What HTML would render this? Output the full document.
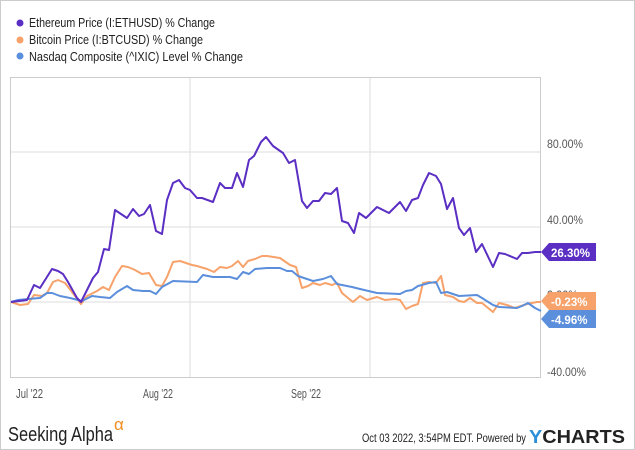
<!DOCTYPE html>
<html><head><style>
body{margin:0;width:635px;height:450px;background:#fff;overflow:hidden;font-family:"Liberation Sans",sans-serif}
</style></head><body>
<svg width="635" height="450" xmlns="http://www.w3.org/2000/svg" style="position:absolute;left:0;top:0">
<rect x="0.5" y="0.5" width="634" height="449" fill="#fff" stroke="#ccc"/>
<g font-size="12.5" fill="#222" font-family="Liberation Sans,sans-serif">
<circle cx="20" cy="23" r="3.5" fill="#5b2ec4"/><text x="29" y="27" textLength="186" lengthAdjust="spacingAndGlyphs">Ethereum Price (I:ETHUSD) % Change</text>
<circle cx="20" cy="40" r="3.5" fill="#f7a26a"/><text x="29" y="44" textLength="174" lengthAdjust="spacingAndGlyphs">Bitcoin Price (I:BTCUSD) % Change</text>
<circle cx="20" cy="56" r="3.5" fill="#5b8fdb"/><text x="29" y="61" textLength="214" lengthAdjust="spacingAndGlyphs">Nasdaq Composite (^IXIC) Level % Change</text>
</g>
<g stroke="#ddd" stroke-width="1">
<line x1="10" y1="152" x2="540" y2="152"/><line x1="10" y1="227" x2="540" y2="227"/><line x1="10" y1="302" x2="540" y2="302"/>
<line x1="190" y1="77" x2="190" y2="377"/><line x1="370" y1="77" x2="370" y2="377"/>
</g>
<rect x="10.5" y="77.5" width="530" height="300" fill="none" stroke="#ccc"/>
<g font-size="11.5" fill="#555">
<text x="547" y="148" textLength="36" lengthAdjust="spacingAndGlyphs">80.00%</text><text x="547" y="224" textLength="36" lengthAdjust="spacingAndGlyphs">40.00%</text><text x="547" y="299" textLength="31" lengthAdjust="spacingAndGlyphs">0.00%</text><text x="547" y="376" textLength="39" lengthAdjust="spacingAndGlyphs">-40.00%</text>
</g>
<g font-size="13" fill="#555">
<text x="16" y="398" textLength="27" lengthAdjust="spacingAndGlyphs">Jul '22</text><text x="143" y="398" textLength="30" lengthAdjust="spacingAndGlyphs">Aug '22</text><text x="291" y="398" textLength="30" lengthAdjust="spacingAndGlyphs">Sep '22</text>
</g>
<g fill="none" stroke-width="2" stroke-linejoin="round">
<polyline stroke="#f7a26a" points="11,302 20,305 28,304 34,295 42,296 47,293 53,282 58,280 65,283 72,292 81,304 87,296 97,291 103,287 109,290 115,277 122,266 128,267 135,270 142,274 149,273 156,285 162,286 167,277 173,262 180,261 192,265 197,266 207,269 214,272 220,267 227,268 232,266 238,261 243,267 248,261 255,259 262,256 267,256 280,258 290,265 296,267 302,288 308,286 313,283 320,285 325,283 332,285 337,283 342,293 348,298 353,302 360,296 367,300 377,297 385,300 395,299 400,300 406,309 412,306 418,304 423,283 429,282 436,283 441,276 445,295 453,297 459,301 464,302 470,298 477,303 482,303 493,312 499,303 507,305 515,308 527,304 537,302 541,302"/>
<polyline stroke="#5b8fdb" points="11,302 18,300 28,299 40,298 47,293 52,293 60,296 70,298 82,301 92,296 100,297 110,298 117,292 127,286 133,290 143,291 150,291 156,294 162,287 173,281 197,282 203,275 213,277 230,277 237,279 243,272 249,274 255,269 267,268 280,268 287,271 292,271 298,276 313,281 323,279 331,276 337,284 352,287 360,289 377,293 400,294 406,291 412,290 418,286 429,283 436,282 441,293 447,292 459,296 477,295 482,298 493,305 499,307 517,308 522,306 528,303 535,308 541,311"/>
<polyline stroke="#5b2ec4" points="11,302 27,300 34,285 40,288 52,269 58,271 63,274 68,282 77,298 81,302 87,290 93,278 98,272 104,249 109,250 115,210 127,218 133,209 139,216 144,214 150,205 156,231 162,234 167,200 173,183 179,180 185,188 190,190 197,198 202,198 213,202 220,183 225,188 232,188 237,173 243,187 249,160 254,156 261,142 266,137 273,146 283,153 289,163 295,160 302,201 307,208 313,201 319,201 325,193 331,194 337,188 342,221 348,223 354,233 359,213 366,218 377,207 389,213 400,202 406,211 412,200 418,198 423,185 429,173 436,176 441,184 447,209 453,198 459,228 464,235 470,228 476,252 482,244 493,267 499,253 505,254 517,259 522,253 528,253 535,252 541,252"/>
</g>
<g font-size="11.5" font-weight="bold" fill="#fff">
<path d="M541,252 L549,243 L596,243 L596,261 L549,261 Z" fill="#5b2ec4"/><text x="551" y="257">26.30%</text>
<path d="M541,301 L549,292 L596,292 L596,310 L549,310 Z" fill="#f7a26a"/><text x="551" y="306">-0.23%</text>
<path d="M541,319 L549,310 L596,310 L596,328 L549,328 Z" fill="#5b8fdb"/><text x="551" y="324">-4.96%</text>
</g>
<text x="8" y="441" font-size="20" fill="#222" textLength="105" lengthAdjust="spacingAndGlyphs">Seeking Alpha</text>
<text x="114" y="430" font-size="17" fill="#f28c1e">α</text>
<text x="362" y="442" font-size="12" fill="#222" textLength="164" lengthAdjust="spacingAndGlyphs">Oct 03 2022, 3:54PM EDT.  Powered by</text>
<text x="529" y="443" font-size="18" font-weight="bold" fill="#222" textLength="96" lengthAdjust="spacingAndGlyphs"><tspan fill="#2a8fd8">Y</tspan>CHARTS</text>
</svg>
</body></html>
